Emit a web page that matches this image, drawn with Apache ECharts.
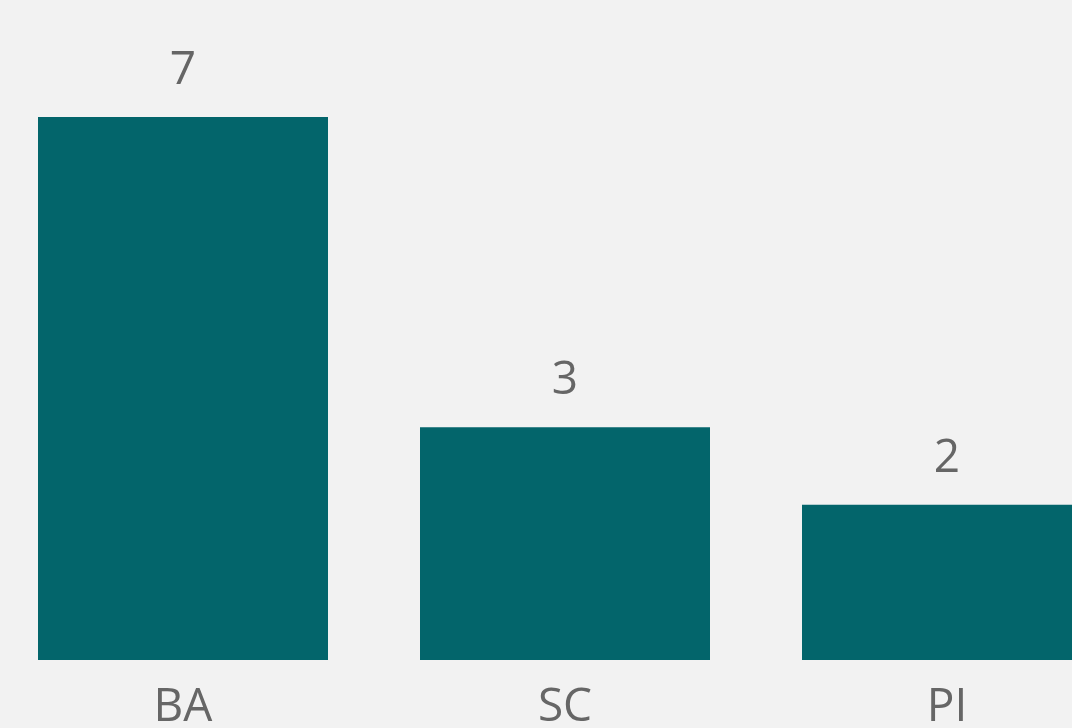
<!DOCTYPE html>
<html>
<head>
<meta charset="utf-8">
<style>
  html, body { margin: 0; padding: 0; background: #f2f2f2; overflow: hidden; }
  /* the plot runs a little past both edges of the window, so the div is wider */
  #chart { width: 1146px; height: 728px; position: relative; left: -8px; }
</style>
<script src="https://cdn.jsdelivr.net/npm/echarts@6/dist/echarts.min.js"></script>
</head>
<body>
<div id="chart"></div>
<script>
// data
const categories = ['BA', 'SC', 'PI'];
const counts = [7, 3, 2];

const chart = echarts.init(document.getElementById('chart'));
const textColor = '#666666';
const font = '"Open Sans", "Noto Sans", sans-serif';

chart.setOption({
    backgroundColor: '#f2f2f2',
    animation: false,
    grid: {
        left: 0,
        right: 0,
        top: 117,
        height: 543,
        outerBoundsMode: 'none'
    },
    xAxis: {
        type: 'category',
        data: categories,
        axisLine: {show: false},
        axisTick: {show: false},
        axisLabel: {
            color: textColor,
            fontFamily: font,
            fontSize: 46,
            margin: 25
        }
    },
    yAxis: {
        type: 'value',
        min: 0,
        max: 7,
        show: false,
        splitLine: {show: false}
    },
    series: [{
        type: 'bar',
        data: counts,
        barWidth: 290,
        itemStyle: {color: '#03656b'},
        label: {
            show: true,
            position: 'top',
            distance: 23,
            color: textColor,
            fontFamily: font,
            fontSize: 46
        }
    }]
});
</script>
</body>
</html>
